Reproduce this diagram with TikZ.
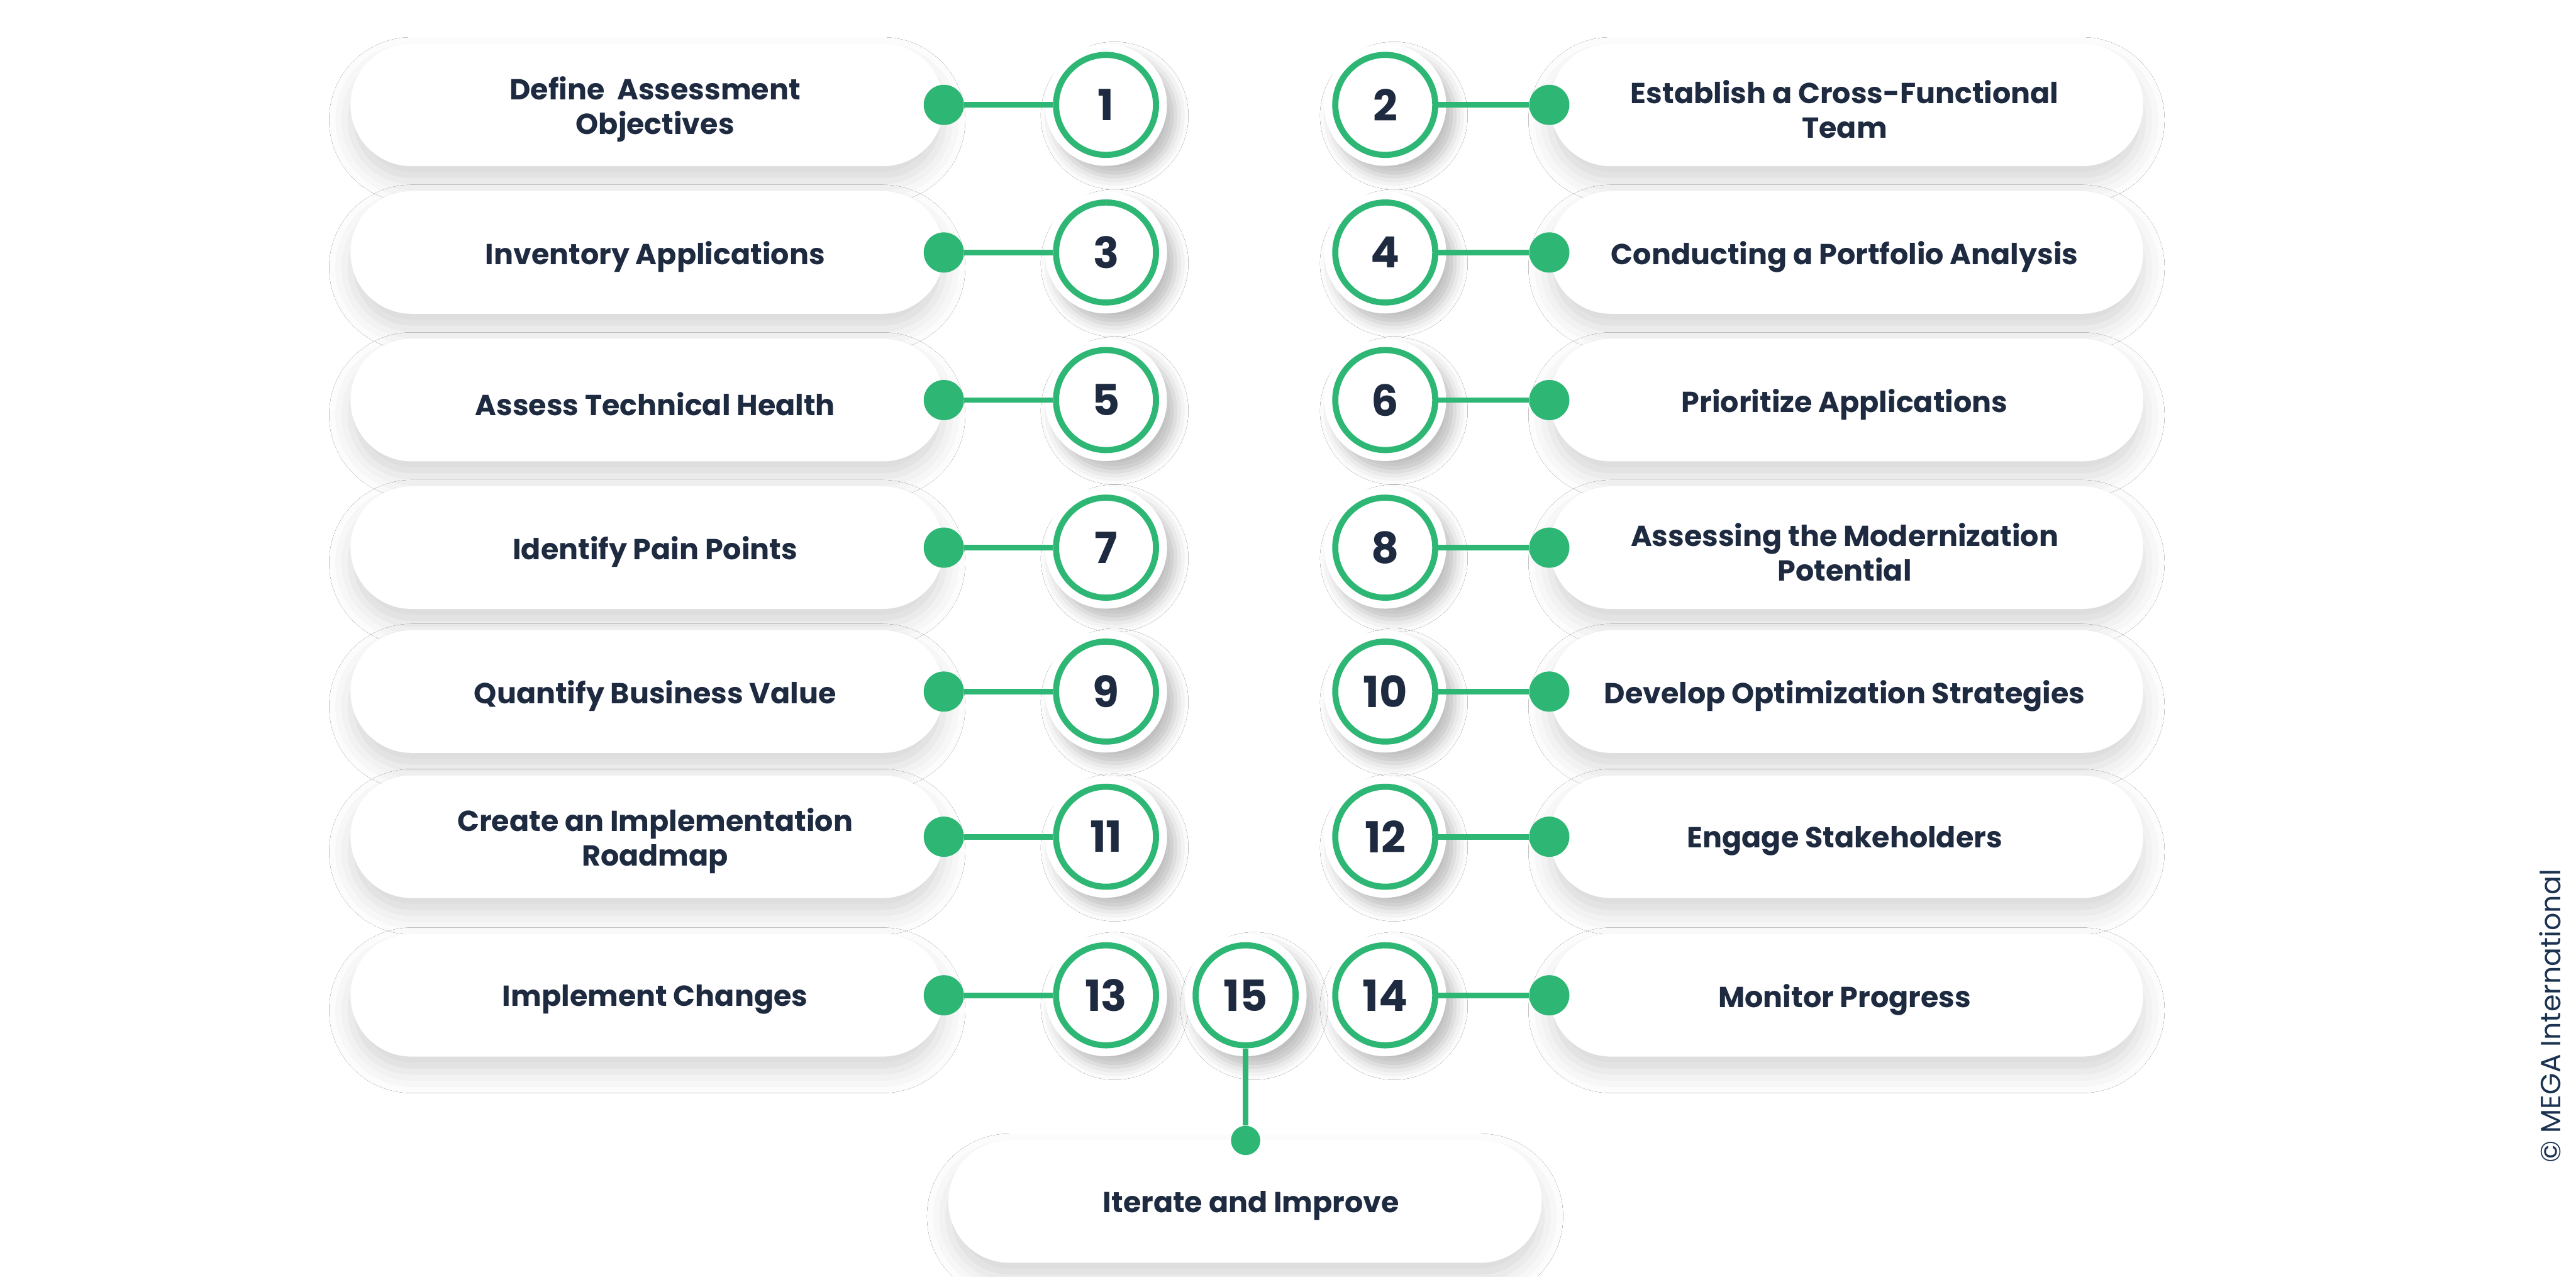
\documentclass[tikz,border=0pt]{standalone}
\usepackage{fontspec}
\setmainfont{Poppins}
\usetikzlibrary{shadows.blur}
\definecolor{grn}{HTML}{2EB774}
\definecolor{ink}{HTML}{1E2A40}
\definecolor{ink2}{HTML}{1B3350}
\tikzset{
 pill/.style={fill=white, rounded corners=1cm, minimum width=9.73cm, minimum height=2.01cm, inner sep=0pt,
   blur shadow={shadow xshift=0pt, shadow yshift=-7pt, shadow blur radius=10pt, shadow opacity=16}},
 ptxt/.style={align=center, inner sep=0pt, font=\fontsize{13.5}{16.2}\selectfont\bfseries, text=ink},
 halo/.style={circle, fill=white, minimum size=2.0cm, inner sep=0pt,
   blur shadow={shadow xshift=4pt, shadow yshift=-5pt, shadow blur radius=6pt, shadow opacity=26}},
 num/.style={circle, draw=grn, line width=2.85pt, fill=white, minimum size=1.64cm, inner sep=0pt,
   font=\fontsize{20}{20}\selectfont\bfseries, text=ink},
 dot/.style={circle, fill=grn, minimum size=0.66cm, inner sep=0pt},
 link/.style={draw=grn, line width=2.6pt},
}
\begin{document}
\begin{tikzpicture}
\useasboundingbox (0,0) rectangle (42.25,-20.93);
\fill[white] (0,0) rectangle (42.25,-20.93);
\def\rows{1/1.72/{Define~~Assessment\\Objectives}/{Establish a Cross-Functional\\Team},
2/4.14/{Inventory Applications}/{Conducting a Portfolio Analysis},
3/6.56/{Assess Technical Health}/{Prioritize Applications},
4/8.98/{Identify Pain Points}/{Assessing the Modernization\\Potential},
5/11.34/{Quantify Business Value}/{Develop Optimization Strategies},
6/13.72/{Create an Implementation\\Roadmap}/{Engage Stakeholders},
7/16.32/{Implement Changes}/{Monitor Progress}}
% pills
\foreach \i/\y/\lt/\rt in \rows {
  \node[pill] (pl\i) at (10.615,-\y) {};
  \node[ptxt] (tl\i) at ([xshift=0.13cm, yshift=-0.07cm]pl\i.center) {\lt};
  \node[pill] (pr\i) at (30.285,-\y) {};
  \node[ptxt] (tr\i) at ([xshift=-0.03cm, yshift=-0.07cm]pr\i.center) {\rt};
}
\node[pill] (pb) at (20.42,-19.70) {};
\node[ptxt] (tb) at ([xshift=0.1cm, yshift=-0.07cm]pb.center) {Iterate and Improve};
% halos
\foreach \i/\y/\lt/\rt in \rows {
  \node[halo] (hl\i) at (18.14,-\y) {};
  \node[halo] (hr\i) at (22.72,-\y) {};
}
\node[halo] (h15) at (20.43,-16.32) {};
% numbered circles, dots, links
\foreach \i/\y/\lt/\rt in \rows {
  \pgfmathtruncatemacro\a{2*\i-1}
  \pgfmathtruncatemacro\b{2*\i}
  \node[num] (cl\i) at (18.14,-\y) {\a};
  \node[num] (cr\i) at (22.72,-\y) {\b};
  \node[dot] (dl\i) at (15.48,-\y) {};
  \node[dot] (dr\i) at (25.41,-\y) {};
  \draw[link] (dl\i) -- (cl\i);
  \draw[link] (cr\i) -- (dr\i);
}
\node[num] (c15) at (20.43,-16.32) {15};
\node[dot, minimum size=0.48cm] (d15) at (20.43,-18.70) {};
\draw[link] (c15) -- (d15);
% copyright
\node[rotate=90, font=\fontsize{13}{13}\selectfont, text=ink2] (copy) at (41.83,-16.66) {© MEGA International};
\end{tikzpicture}
\end{document}
